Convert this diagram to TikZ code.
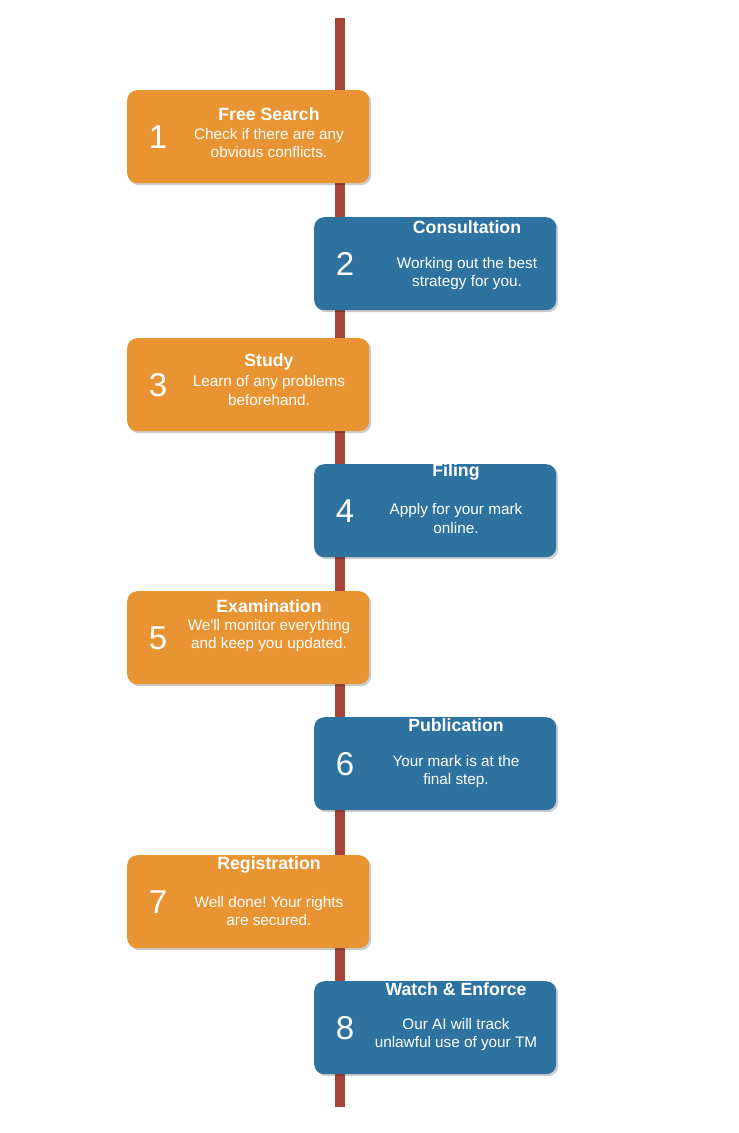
\documentclass[tikz,border=0pt]{standalone}
\usepackage{fontspec}
\setmainfont{Liberation Sans}
\usetikzlibrary{shadows}
\frenchspacing

\definecolor{steporange}{HTML}{E89432}
\definecolor{stepblue}{HTML}{2E73A0}
\definecolor{spine}{HTML}{A94438}

\tikzset{
    stepbox/.style={rounded corners=10pt, minimum width=242pt, minimum height=93pt,
        inner sep=0pt, anchor=north west,
        drop shadow={shadow xshift=2pt, shadow yshift=-2pt, opacity=0.2, fill=black}},
    stepnum/.style={text=white, font=\fontsize{33}{33}\selectfont, inner sep=0pt},
    steptitle/.style={text=white, font=\fontsize{17.7}{19}\selectfont\bfseries, inner sep=0pt},
    steptext/.style={text=white, font=\fontsize{15.3}{18.5}\selectfont, align=center, inner sep=0pt},
}

\begin{document}
\begin{tikzpicture}[x=1pt, y=-1pt]
    \useasboundingbox (0,0) rectangle (739,1133);

    % the timeline behind the boxes
    \coordinate (top) at (340,18);
    \coordinate (bottom) at (340,1107);
    \draw[spine, line width=10pt] (top) -- (bottom);

    \foreach \n/\xl/\yt/\col/\nx/\tx/\ty/\dy/\title/\desc in {
        1/127/90/steporange/158/269/114/143/{Free Search}/{Check if there are any\\obvious conflicts.},
        2/314/217/stepblue/345/467/227/273.5/{Consultation}/{Working out the best\\strategy for you.},
        3/127/338/steporange/158/269/362/390.5/{Study}/{Learn of any problems\\beforehand.},
        4/314/464/stepblue/345/456/472/518.5/{Filing}/{Apply for your mark\\online.},
        5/127/591/steporange/158/269/606/635.5/{Examination}/{We\textquotesingle ll monitor everything\\and keep you updated.},
        6/314/717/stepblue/345/456/725/771.5/{Publication}/{Your mark is at the\\final step.},
        7/127/855/steporange/158/269/865/911/{Registration}/{Well done! Your rights\\are secured.},
        8/314/981/stepblue/345/456/989/1034.5/{Watch \& Enforce}/{Our AI will track\\unlawful use of your TM}%
    } {
        \node[stepbox, fill=\col] (box-\n) at (\xl,\yt) {};
        \node[stepnum] (num-\n) at (\nx, \yt+47) {\n};
        \node[steptitle] (title-\n) at (\tx,\ty) {\title};
        \node[steptext] (desc-\n) at (\tx,\dy) {\desc};
    }
\end{tikzpicture}
\end{document}
